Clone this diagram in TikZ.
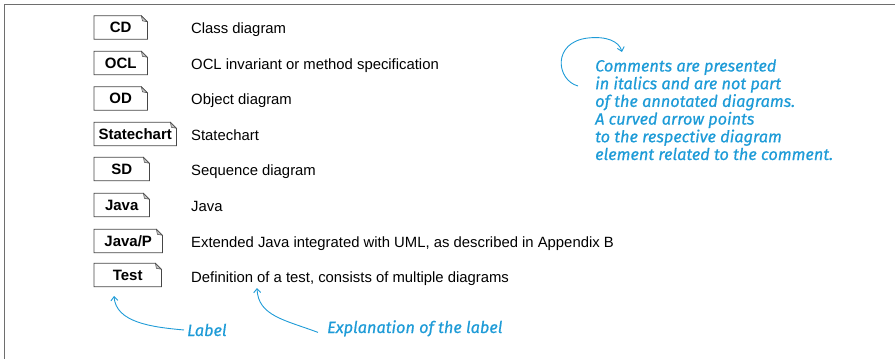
\documentclass[tikz,border=0pt]{standalone}
\usepackage{fontspec}
\setmainfont{Liberation Sans}
\newfontfamily\notefont[FakeBold=0.6]{Fira Sans}
\usetikzlibrary{arrows.meta}
\definecolor{noteblue}{RGB}{30,155,215}
\definecolor{framegray}{RGB}{110,110,110}
\definecolor{boxgray}{RGB}{70,70,70}
\definecolor{flapgray}{RGB}{200,200,200}
\tikzset{
  tag/.style={anchor=west, inner sep=0pt, minimum height=23pt, minimum width=#1,
    font=\fontsize{15}{15}\selectfont\bfseries, text height=10.7pt, text depth=0pt},
  tag/.default=53pt,
  desc/.style={anchor=west, inner sep=0pt, font=\fontsize{14.85}{15}\selectfont,
    text height=10.7pt, text depth=0pt},
  tagline/.style={draw=boxgray, line width=0.8pt, line join=miter},
  flap/.style={fill=flapgray, draw=boxgray, line width=0.5pt},
  noteline/.style={draw=noteblue, line width=0.9pt, -{Straight Barb[length=4pt,width=7pt]}},
  note/.style={text=noteblue, inner sep=0pt, font=\notefont\itshape\fontsize{16.3}{17.7}\selectfont},
}
% label box with a dog-eared top right corner
\newcommand\dogear[1]{%
  \draw[tagline] (#1.north west) -- ([xshift=-6pt]#1.north east)
    -- ([yshift=-6pt]#1.north east) -- (#1.south east) -- (#1.south west) -- cycle;
  \draw[flap] ([xshift=-6pt]#1.north east) -- ([xshift=-5pt,yshift=-5pt]#1.north east)
    -- ([yshift=-6pt]#1.north east) -- cycle;
}
\begin{document}
\begin{tikzpicture}[x=1pt,y=-1pt]
  \useasboundingbox (0,0) rectangle (895,359);
  % frame edges
  \draw[framegray, line width=1.6pt] (4.5,359) -- (4.5,4.5) -- (895,4.5);

  % labels
  \node[tag] (cd) at (94,27.5) {CD};
  \node[tag] (ocl) at (94,63) {OCL};
  \node[tag] (od) at (94,98.5) {OD};
  \node[tag=82pt] (sc) at (94,134) {Statechart};
  \node[tag=55pt] (sd) at (94,169) {SD};
  \node[tag=55pt] (java) at (94,205) {Java};
  \node[tag=68pt] (javap) at (94,241) {Java/P};
  \node[tag=67pt] (test) at (94,275) {Test};
  \foreach \n in {cd,ocl,od,sc,sd,java,javap,test} {\dogear{\n}}

  % explanations
  \node[desc] (dcd) at (191,28.5) {Class diagram};
  \node[desc] (docl) at (191,64) {OCL invariant or method specification};
  \node[desc] (dod) at (191,99.5) {Object diagram};
  \node[desc] (dsc) at (191,135) {Statechart};
  \node[desc] (dsd) at (191,170) {Sequence diagram};
  \node[desc] (djava) at (191,206) {Java};
  \node[desc] (djavap) at (191,242) {Extended Java integrated with UML, as described in Appendix B};
  \node[desc] (dtest) at (191,277.5) {Definition of a test, consists of multiple diagrams};

  % comment (anchored on the baseline of its last line)
  \node[note, anchor=base west, align=left] (cmt) at (595,160)
    {Comments are presented\\in italics and are not part\\of the annotated diagrams.\\A curved arrow points\\to the respective diagram\\element related to the comment.};
  \coordinate (cmtstart) at (578,86);
  \coordinate (cmttip) at (622,52);
  \draw[noteline] (cmtstart) .. controls (556,80) and (552,42) .. (588,38)
    .. controls (606,36) and (619,41) .. (cmttip);

  % annotations of the legend row
  \node[note, anchor=base west] (lab) at (187,336) {Label};
  \node[note, anchor=base west] (expl) at (327,333) {Explanation of the label};
  \coordinate (labtip) at (114,296);
  \coordinate (expltip) at (257,288);
  \draw[noteline] ([xshift=-3pt]lab.west) .. controls (150,327) and (116,322) .. (labtip);
  \draw[noteline] ([xshift=-9pt,yshift=-4pt]expl.west) .. controls (285,320) and (258,316) .. (expltip);
\end{tikzpicture}
\end{document}
